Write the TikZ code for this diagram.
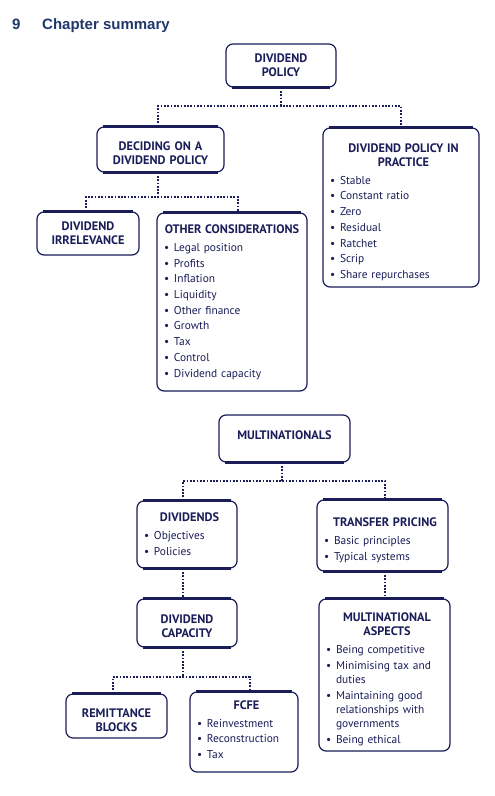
\documentclass[tikz,border=0pt]{standalone}
\usepackage{fontspec}
\setmainfont{PT Sans}
\newfontfamily\headfont{Liberation Sans}
\usetikzlibrary{positioning}
\definecolor{navy}{RGB}{27,29,89}
\definecolor{headblue}{RGB}{31,56,108}
\tikzset{
  box/.style={draw=navy, text=navy, line width=1.2pt, rounded corners=7pt, align=center,
    font=\bfseries\fontsize{12.3}{14}\selectfont, inner sep=0pt, inner xsep=4pt},
  listbox/.style={box, align=left, inner xsep=7pt,
    font=\fontsize{11.4}{14.3}\selectfont\setlength{\parskip}{1.4pt}},
  pad/.style={execute at begin node={\vskip#1}},
  padb/.style={execute at end node={\par\vskip#1\hrule height 0pt width 0pt}},
  conn/.style={navy, line width=1.7pt, dash pattern=on 1.7pt off 1.6pt},
  edge/.style={navy, line width=3pt}
}
\newcommand{\hd}[2][5pt]{{\centering\advance\leftskip by #1\bfseries\fontsize{12.3}{14}\selectfont #2\par}\vspace{2.3pt}}
\newcommand{\bitem}[1]{\hangindent=10pt\hangafter=1\noindent\makebox[10pt][l]{\textbullet}#1\par}

\begin{document}
\begin{tikzpicture}[x=1pt,y=-1pt]

\fill[white] (0,0) rectangle (495,796);
\useasboundingbox (0,0) rectangle (495,796);

\node[anchor=base west, inner sep=0pt, text=headblue, font=\headfont\bfseries\fontsize{15}{18}\selectfont] (num) at (12,29) {9};
\node[anchor=base west, inner sep=0pt, text=headblue, font=\headfont\bfseries\fontsize{15}{18}\selectfont] (ttl) at (42,29) {Chapter summary};

% dividend policy
\node[box, text width=102pt, minimum width=110pt, minimum height=43pt] (dp) at (281,65.5) {DIVIDEND\\POLICY};
\node[box, pad=1.5pt, text width=119pt, minimum width=127pt, minimum height=45pt] (dec) at (160.5,149.5) {DECIDING ON A\\DIVIDEND POLICY};
\node[listbox, pad=2.5pt, text width=142pt, minimum width=156pt, minimum height=159pt] (prac) at (401,207.5) {%
  \hd{DIVIDEND POLICY IN\\PRACTICE}
  \bitem{Stable}\bitem{Constant ratio}\bitem{Zero}\bitem{Residual}\bitem{Ratchet}\bitem{Scrip}\bitem{Share repurchases}};
\node[box, text width=94pt, minimum width=102pt, minimum height=43pt] (irr) at (88,233.5) {DIVIDEND\\IRRELEVANCE};
\node[listbox, text width=136pt, minimum width=150pt, minimum height=178pt] (oth) at (232,302) {%
  \hd[0pt]{OTHER CONSIDERATIONS}
  \bitem{Legal position}\bitem{Profits}\bitem{Inflation}\bitem{Liquidity}\bitem{Other finance}
  \bitem{Growth}\bitem{Tax}\bitem{Control}\bitem{Dividend capacity}};

\coordinate (b1) at (281,106);
\coordinate (b2) at (158,197);
\draw[conn] (dp.south) -- (b1);
\draw[conn] ([xshift=-2.5pt]dec.north) |- (b1) -| (prac.north);
\draw[conn] ([xshift=-2.5pt]dec.south) -- (b2);
\draw[conn] ([xshift=-2pt]irr.north) |- (b2) -| ([xshift=6pt]oth.north);

% multinationals
\node[box, padb=6pt, text width=123pt, minimum width=131pt, minimum height=47pt] (mult) at (284.5,438.5) {MULTINATIONALS};
\node[listbox, text width=86pt, minimum width=100pt, minimum height=67pt] (divs) at (187,534.5) {%
  \hd{DIVIDENDS}
  \bitem{Objectives}\bitem{Policies}};
\node[listbox, pad=3pt, text width=117pt, minimum width=131pt, minimum height=71pt] (tp) at (382.5,535.5) {%
  \hd{TRANSFER PRICING}
  \bitem{Basic principles}\bitem{Typical systems}};
\node[box, pad=1.5pt, text width=92pt, minimum width=100pt, minimum height=48pt] (cap) at (187,623) {DIVIDEND\\CAPACITY};
\node[listbox, pad=2pt, text width=117pt, minimum width=131pt, minimum height=152pt] (asp) at (384.5,675) {%
  \hd{MULTINATIONAL\\ASPECTS}
  \bitem{Being competitive}\bitem{Minimising tax and\newline duties}
  \bitem{Maintaining good\newline relationships with\newline governments}\bitem{Being ethical}};
\node[box, pad=3.5pt, text width=93pt, minimum width=101pt, minimum height=44pt] (rem) at (116.5,716) {REMITTANCE\\BLOCKS};
\node[listbox, padb=5pt, text width=94pt, minimum width=108pt, minimum height=80pt] (fcfe) at (244,732) {%
  \hd{FCFE}
  \bitem{Reinvestment}\bitem{Reconstruction}\bitem{Tax}};

\coordinate (b3) at (282,481);
\coordinate (b4) at (183,677);
\draw[conn] ([xshift=-2.5pt]mult.south) -- (b3);
\draw[conn] ([xshift=-4pt]divs.north) |- (b3) -| ([xshift=2.5pt]tp.north);
\draw[conn] ([xshift=-4pt]divs.south) -- ([xshift=-4pt]cap.north);
\draw[conn] ([xshift=2.5pt]tp.south) -- ([xshift=0.5pt]asp.north);
\draw[conn] ([xshift=-4pt]cap.south) -- (b4);
\draw[conn] ([xshift=-3.5pt]rem.north) |- (b4) -| ([xshift=6pt]fcfe.north);

% heavier box edges
\foreach \n in {dec,prac,irr,oth,divs,tp,cap,rem,fcfe,asp}
  \draw[edge] ([xshift=7pt]\n.north west) -- ([xshift=-7pt]\n.north east);
\foreach \n in {dp,dec,mult,divs,tp,cap}
  \draw[edge] ([xshift=7pt]\n.south west) -- ([xshift=-7pt]\n.south east);

\end{tikzpicture}
\end{document}
